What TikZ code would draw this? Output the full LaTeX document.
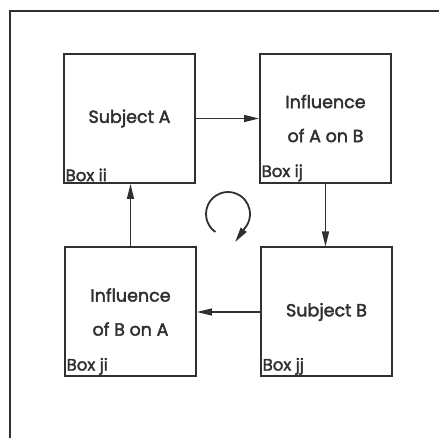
\documentclass[tikz,border=0pt]{standalone}
\usepackage{fontspec}
\setmainfont{Poppins}[FakeBold=2.2]
\usetikzlibrary{arrows.meta}
\definecolor{ink}{HTML}{303030}
\begin{document}
\begin{tikzpicture}[x=1pt,y=1pt,
  boxnode/.style={draw=ink,line width=2pt,minimum width=131pt,minimum height=129pt,inner sep=0pt,
    text=ink,font=\fontsize{17.5}{34}\selectfont,align=center},
  boxlab/.style={anchor=south west,inner sep=2.5pt,text=ink,font=\fontsize{16.5}{18}\selectfont},
  arr/.style={draw=ink,line width=1.5pt,-{Triangle[length=15pt,width=7pt]}}]
\useasboundingbox (0,0) rectangle (439,438);
\draw[ink,line width=2pt] (10,0) -- (10,427) -- (439,427);
\node[boxnode,label={[boxlab]south west:Box ii}] (ii) at (129.5,319.5) {Subject A};
\node[boxnode,label={[boxlab]south west:Box ij}] (ij) at (325.5,319.5) {Influence\\of A on B};
\node[boxnode,label={[boxlab]south west:Box ji}] (ji) at (130.5,126) {Influence\\of B on A};
\node[boxnode,label={[boxlab]south west:Box jj}] (jj) at (326.5,126) {Subject B};
\draw[arr] (ii.east) -- (ij.west);
\draw[arr] (ij.south) -- (ij.south |- jj.north);
\draw[arr] (jj.west) -- (jj.west -| ji.east);
\draw[arr] (ji.north) -- (ji.north |- ii.south);
\coordinate (c) at (228,224);
\draw[arr,line width=1.8pt] (c) ++(235:22) arc[start angle=235,end angle=-40,radius=22] -- ++(-125:17);
\end{tikzpicture}
\end{document}
